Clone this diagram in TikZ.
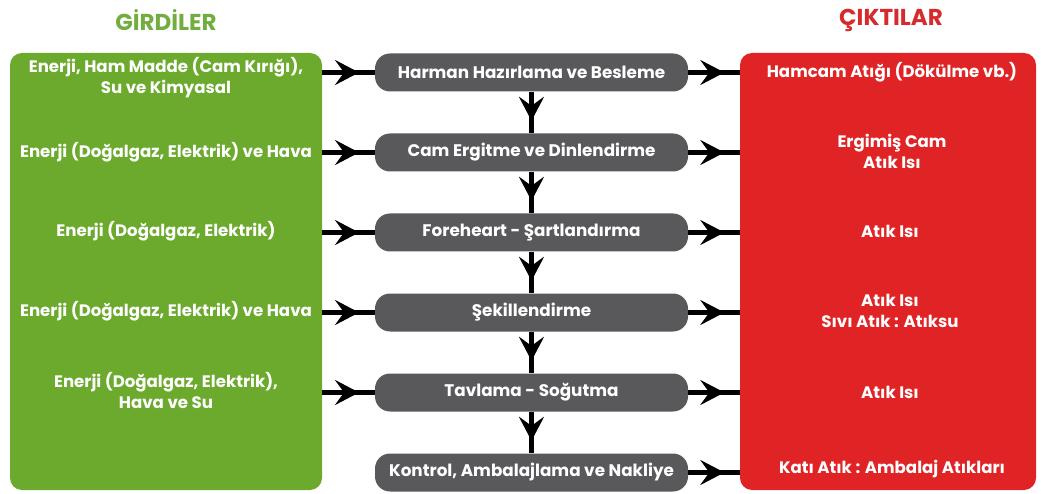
\documentclass[tikz,border=0pt]{standalone}
\usepackage{fontspec}
\setmainfont{Poppins}
\usetikzlibrary{arrows.meta,decorations.markings}
\definecolor{boxgreen}{HTML}{6BAA2C}
\definecolor{boxred}{HTML}{E02426}
\definecolor{boxgray}{HTML}{59585B}
\definecolor{titlegreen}{HTML}{72AD3F}
\definecolor{titlered}{HTML}{D62A2C}
\tikzset{
  sidebox/.style={rounded corners=12pt, inner sep=0pt},
  stepbox/.style={fill=boxgray, rounded corners=15pt, minimum width=313pt, minimum height=38pt, inner sep=0pt, text=white, font=\fontsize{16.8}{19}\selectfont\bfseries},
  sidetext/.style={text=white, align=center, font=\fontsize{16.6}{21}\selectfont\bfseries},
  titletext/.style={font=\fontsize{23}{26}\selectfont\bfseries},
  flow/.style={line width=5.5pt, postaction={decorate}, decoration={markings, mark=at position 0.7 with {\arrow{Stealth[length=24pt,width=25pt,inset=9pt]}}}}
}
\begin{document}
\begin{tikzpicture}[x=1pt,y=-1pt]
\useasboundingbox (0,0) rectangle (1041,494);
% titles
\node[titletext, text=titlegreen] (tin) at (166,20) {GİRDİLER};
\node[titletext, text=titlered] (tout) at (891,20) {ÇIKTILAR};
% side boxes
\node[sidebox, fill=boxgreen, minimum width=312pt, minimum height=437pt] (gin) at (166,271.5) {};
\node[sidebox, fill=boxred, minimum width=296pt, minimum height=437pt] (rout) at (888,271.5) {};
% steps
\node[stepbox] (s1) at (531.5,72.5) {Harman Hazırlama ve Besleme};
\node[stepbox] (s2) at (531.5,152.5) {Cam Ergitme ve Dinlendirme};
\node[stepbox] (s3) at (531.5,232.5) {Foreheart - Şartlandırma};
\node[stepbox] (s4) at (531.5,312.5) {Şekillendirme};
\node[stepbox] (s5) at (531.5,392.5) {Tavlama - Soğutma};
\node[stepbox] (s6) at (531.5,472.5) {Kontrol, Ambalajlama ve Nakliye};
% inputs
\node[sidetext] (i1) at (166,78) {Enerji, Ham Madde (Cam Kırığı),\\Su ve Kimyasal};
\node[sidetext] (i2) at (166,152.5) {Enerji (Doğalgaz, Elektrik) ve Hava};
\node[sidetext] (i3) at (166,231) {Enerji (Doğalgaz, Elektrik)};
\node[sidetext] (i4) at (166,311) {Enerji (Doğalgaz, Elektrik) ve Hava};
\node[sidetext] (i5) at (166,390) {Enerji (Doğalgaz, Elektrik),\\Hava ve Su};
% outputs
\node[sidetext] (o1) at (892,72) {Hamcam Atığı (Dökülme vb.)};
\node[sidetext] (o2) at (892,151) {Ergimiş Cam\\Atık Isı};
\node[sidetext] (o3) at (890,231) {Atık Isı};
\node[sidetext] (o4) at (890,311) {Atık Isı\\Sıvı Atık : Atıksu};
\node[sidetext] (o5) at (890,392) {Atık Isı};
\node[sidetext] (o6) at (892,469) {Katı Atık : Ambalaj Atıkları};
% connectors
\foreach \s in {s1,s2,s3,s4,s5}{
  \draw[flow] (gin.east |- \s) -- (\s.west);
}
\foreach \s in {s1,s2,s3,s4,s5,s6}{
  \draw[flow] (\s.east) -- (rout.west |- \s);
}
\draw[flow] (s1.south) -- (s2.north);
\draw[flow] (s2.south) -- (s3.north);
\draw[flow] (s3.south) -- (s4.north);
\draw[flow] (s4.south) -- (s5.north);
\draw[flow] (s5.south) -- (s6.north);
\end{tikzpicture}
\end{document}
